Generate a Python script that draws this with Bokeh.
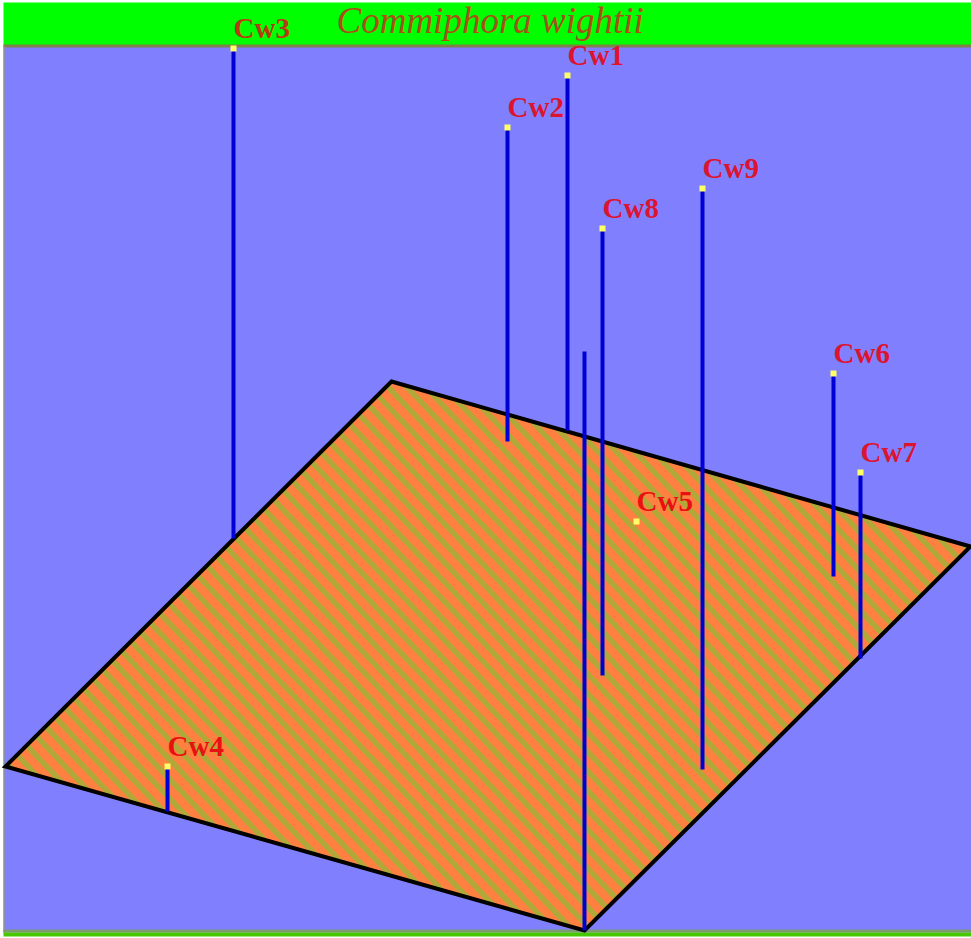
from bokeh.plotting import figure
from bokeh.models import Range1d, ColumnDataSource
from bokeh.core.properties import value
from bokeh.embed import file_html
from bokeh.resources import INLINE

W, H = 971, 938

# Samples (labels, stem position across the picture, stem top, stem foot)
labels = ["Cw1", "Cw2", "Cw3", "Cw4", "Cw5", "Cw6", "Cw7", "Cw8", "Cw9"]
stem_x = [567, 507, 233, 167, 636, 833, 860, 602, 702]
stem_top = [75, 127, 48, 766, 521, 373, 472, 228, 188]
stem_foot = [430, 441, 538, 811, 521, 576, 658, 675, 769]

# The stem that has no label or point
extra_x = [584]
extra_top = [351]
extra_foot = [930]

# Ground plane corners
plane_x = [391, 970, 584, 5]
plane_y = [381, 546, 930, 766]

title_text = "Commiphora wightii"

RED = "#dc1430"
RED_ON_GREEN = "#b83a10"
RED_ON_ORANGE = "#e81010"
BLUE = "#0000d4"
BLACK = "#000000"
ORANGE = "#ff8040"
OLIVE = "#b0a838"
SKY = "#8080ff"
GREEN = "#00ff00"
label_colors = [RED, RED, RED_ON_GREEN, RED_ON_ORANGE, RED_ON_ORANGE, RED, RED, RED, RED]

p = figure(width=W, height=H, x_range=Range1d(0, W), y_range=Range1d(H, 0),
           toolbar_location=None, output_backend="svg", min_border=0,
           background_fill_color="white",
           border_fill_color="white", outline_line_color=None)
p.axis.visible = False
p.grid.visible = False

# Backdrop, title band and bottom rule
p.quad(left=[3], right=[W], top=[45], bottom=[932], fill_color=SKY, line_color=None)
p.quad(left=[3], right=[W], top=[2], bottom=[45], fill_color=GREEN, line_color=None)
p.quad(left=[3], right=[W], top=[44], bottom=[47], fill_color="#808048", line_color=None)
p.quad(left=[3], right=[5], top=[46], bottom=[932], fill_color="#8c8ca8", line_color=None)
p.quad(left=[3], right=[W], top=[929], bottom=[932], fill_color="#7c9c70", line_color=None)
p.quad(left=[3], right=[W], top=[932], bottom=[936], fill_color="#48c800", line_color=None)

# Ground plane with diagonal stripes, clipped to the plane
p.patch(plane_x, plane_y, fill_color=ORANGE, line_color=None)


def clip(ax, ay, dx, dy):
    t0, t1 = -1e5, 1e5
    n = len(plane_x)
    for i in range(n):
        x0, y0 = plane_x[i], plane_y[i]
        x1, y1 = plane_x[(i + 1) % n], plane_y[(i + 1) % n]
        ex, ey = x1 - x0, y1 - y0
        a = ex * (ay - y0) - ey * (ax - x0)
        b = ex * dy - ey * dx
        if b == 0:
            if a < 0:
                return None
            continue
        t = -a / b
        if b > 0:
            t0 = max(t0, t)
        else:
            t1 = min(t1, t)
    return (t0, t1) if t0 < t1 else None


xs0, ys0, xs1, ys1 = [], [], [], []
PERIOD = 18.5
SLOPE = 1.05
c = 303 - 550 / SLOPE - 60 * PERIOD
while c < 1700:
    r = clip(c, 0.0, 1.0, SLOPE)
    if r:
        xs0.append(c + r[0])
        ys0.append(SLOPE * r[0])
        xs1.append(c + r[1])
        ys1.append(SLOPE * r[1])
    c += PERIOD
p.segment(xs0, ys0, xs1, ys1, line_color=OLIVE, line_width=5.5)

p.patch(plane_x + plane_x[:1], plane_y + plane_y[:1], fill_color=None,
        line_color=BLACK, line_width=4, line_join="miter")

# Stems, points and labels
src = ColumnDataSource(dict(x=stem_x, top=stem_top, foot=stem_foot, label=labels,
                            color=label_colors))
p.segment("x", "top", "x", "foot", source=src, line_color=BLUE, line_width=4)
p.segment(extra_x, extra_top, extra_x, extra_foot, line_color=BLUE, line_width=4)
p.scatter("x", "top", source=src, marker="square", size=6, fill_color="#ffff66",
          line_color=None)
p.text("x", "top", text="label", source=src, text_font=value("Liberation Serif"),
       text_font_style="bold", text_font_size="29px", text_color="color",
       text_align="left", text_baseline="alphabetic", x_offset=0, y_offset=-21)

p.text([336], [20], text=[title_text], text_font=value("Liberation Serif"),
       text_font_style="italic", text_font_size="37px", text_color="#a85018",
       text_align="left", text_baseline="alphabetic")

open("out.html", "w").write(file_html(p, INLINE))
